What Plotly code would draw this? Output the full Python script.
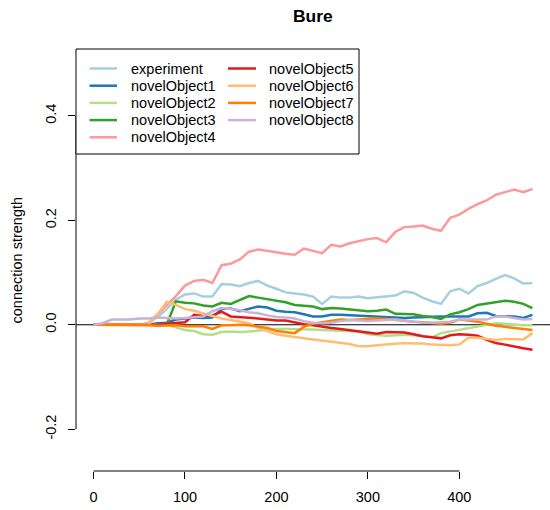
import plotly.graph_objects as go

# ---------------- data ----------------
steps = list(range(0, 481, 10))

series_names = ["experiment", "novelObject1", "novelObject2", "novelObject3", "novelObject4",
                "novelObject5", "novelObject6", "novelObject7", "novelObject8"]
series_colors = ["#A6CEE3", "#1F78B4", "#B2DF8A", "#33A02C", "#FB9A99",
                 "#E31A1C", "#FDBF6F", "#FF7F00", "#CAB2D6"]

experiment = [0, 0, 0, 0, 0, 0, 0.003, 0.015, 0.03, 0.048, 0.058, 0.06, 0.054, 0.054, 0.078, 0.077,
              0.074, 0.08, 0.084, 0.075, 0.069, 0.062, 0.06, 0.058, 0.054, 0.04, 0.054, 0.052, 0.052,
              0.054, 0.051, 0.053, 0.054, 0.056, 0.064, 0.061, 0.052, 0.045, 0.04, 0.064, 0.069, 0.06,
              0.074, 0.08, 0.088, 0.095, 0.089, 0.079, 0.08]
novelObject1 = [0, 0, 0, 0, 0, 0, 0, 0.003, 0.004, 0.01, 0.012, 0.014, 0.013, 0.014, 0.03, 0.031,
                0.026, 0.03, 0.035, 0.033, 0.027, 0.025, 0.024, 0.02, 0.016, 0.016, 0.019, 0.019, 0.018,
                0.018, 0.016, 0.016, 0.014, 0.013, 0.013, 0.014, 0.015, 0.016, 0.016, 0.016, 0.016,
                0.016, 0.022, 0.023, 0.017, 0.016, 0.016, 0.013, 0.019]
novelObject2 = [0, 0, 0, 0, 0, 0, 0, 0, 0, -0.005, -0.01, -0.012, -0.018, -0.019, -0.014, -0.013,
                -0.014, -0.013, -0.011, -0.01, -0.008, -0.008, -0.008, -0.009, -0.009, -0.01, -0.011,
                -0.011, -0.012, -0.013, -0.018, -0.019, -0.021, -0.02, -0.019, -0.02, -0.022, -0.024,
                -0.016, -0.013, -0.009, -0.006, -0.004, -0.001, 0.003, 0.002, 0.0, -0.001, -0.001]
novelObject3 = [0, 0, 0, 0, 0, 0, 0, 0, 0, 0.045, 0.042, 0.041, 0.037, 0.035, 0.042, 0.04, 0.048,
                0.055, 0.052, 0.049, 0.046, 0.043, 0.038, 0.036, 0.035, 0.03, 0.032, 0.031, 0.029,
                0.027, 0.026, 0.027, 0.029, 0.021, 0.02, 0.02, 0.017, 0.015, 0.011, 0.02, 0.024, 0.03,
                0.038, 0.041, 0.043, 0.046, 0.044, 0.04, 0.032]
novelObject4 = [0, 0, 0, 0, 0, 0, 0.003, 0.02, 0.036, 0.055, 0.075, 0.084, 0.086, 0.08, 0.114, 0.117,
                0.125, 0.14, 0.144, 0.142, 0.139, 0.136, 0.134, 0.146, 0.142, 0.137, 0.153, 0.15, 0.156,
                0.16, 0.164, 0.166, 0.158, 0.178, 0.187, 0.188, 0.19, 0.184, 0.18, 0.205, 0.211, 0.222,
                0.231, 0.238, 0.249, 0.254, 0.259, 0.254, 0.26]
novelObject5 = [0, 0, 0, 0, 0, 0, 0, 0, 0.002, 0.003, 0.005, 0.019, 0.017, 0.018, 0.025, 0.016, 0.015,
                0.014, 0.012, 0.01, 0.008, 0.008, 0.004, 0.001, -0.001, -0.004, -0.006, -0.008, -0.01,
                -0.012, -0.015, -0.017, -0.014, -0.014, -0.015, -0.018, -0.022, -0.024, -0.026, -0.02,
                -0.018, -0.019, -0.021, -0.029, -0.035, -0.038, -0.042, -0.045, -0.048]
novelObject6 = [0, 0, 0, 0, 0, 0, 0, 0.02, 0.044, 0.038, 0.03, 0.027, 0.022, 0.018, 0.012, 0.009,
                0.006, 0.003, -0.006, -0.012, -0.018, -0.021, -0.024, -0.026, -0.028, -0.03, -0.032,
                -0.034, -0.037, -0.041, -0.041, -0.039, -0.038, -0.037, -0.035, -0.036, -0.036, -0.038,
                -0.039, -0.039, -0.038, -0.025, -0.025, -0.027, -0.029, -0.027, -0.028, -0.028, -0.016]
novelObject7 = [0, 0, 0, 0, 0, 0, -0.001, -0.002, -0.002, -0.001, -0.003, -0.003, -0.003, -0.008,
                -0.001, -0.001, 0, -0.001, -0.003, -0.006, -0.012, -0.014, -0.016, -0.004, 0.002, 0.005,
                0.008, 0.01, 0.009, 0.01, 0.012, 0.012, 0.011, 0.009, 0.008, 0.006, 0.005, 0.004, 0.002,
                0.004, 0.01, 0.008, 0.006, 0.002, -0.002, -0.004, -0.006, -0.008, -0.01]
novelObject8 = [0, 0.003, 0.01, 0.01, 0.01, 0.012, 0.012, 0.014, 0.013, 0.012, 0.013, 0.014, 0.016,
                0.026, 0.032, 0.03, 0.028, 0.024, 0.022, 0.018, 0.015, 0.014, 0.012, 0.007, 0.004, 0.003,
                0.004, 0.007, 0.009, 0.008, 0.007, 0.008, 0.009, 0.01, 0.008, 0.006, 0.004, 0.004, 0.005,
                0.006, 0.01, 0.01, 0.009, 0.01, 0.016, 0.016, 0.013, 0.01, 0.011]

series_values = [experiment, novelObject1, novelObject2, novelObject3, novelObject4,
                 novelObject5, novelObject6, novelObject7, novelObject8]

x_ticks = [0, 100, 200, 300, 400]
y_ticks = [-0.2, 0.0, 0.2, 0.4]
y_ticktext = ["-0.2", "0.0", "0.2", "0.4"]
title_text = "Bure"
y_title = "connection strength"

# ---------------- layout geometry ----------------
W, H = 550, 510
ML, MR, MT, MB = 76, 0, 48, 39
PW, PH = W - ML - MR, H - MT - MB
FONT = "Liberation Sans, Arial, sans-serif"
FS = 14.5


def px2paper_x(px):
    return (px - ML) / PW


def px2paper_y(py):
    return (H - MB - py) / PH


fig = go.Figure()
for name, vals, col in zip(series_names, series_values, series_colors):
    fig.add_trace(go.Scatter(x=steps, y=vals, mode="lines", name=name,
                             line=dict(color=col, width=2.5), showlegend=False,
                             hoverinfo="skip"))

shapes = []
# horizontal reference at zero (below the lines)
shapes.append(dict(type="line", xref="paper", yref="y", x0=0, x1=1, y0=0, y1=0,
                   line=dict(color="black", width=1), layer="below"))
# R-style axis lines spanning first to last tick
shapes.append(dict(type="line", xref="x", yref="paper", x0=x_ticks[0], x1=x_ticks[-1], y0=0, y1=0,
                   line=dict(color="black", width=1)))
shapes.append(dict(type="line", xref="paper", yref="y", x0=0, x1=0, y0=y_ticks[0], y1=y_ticks[-1],
                   line=dict(color="black", width=1)))

# legend box
lg_left, lg_right, lg_top, lg_bottom = 76, 359, 49, 154
shapes.append(dict(type="rect", xref="paper", yref="paper",
                   x0=px2paper_x(lg_left), x1=px2paper_x(lg_right),
                   y0=px2paper_y(lg_bottom), y1=px2paper_y(lg_top),
                   line=dict(color="black", width=1), fillcolor="white", layer="above"))

annotations = []
col_line_x = [(89.5, 117), (228, 256)]
col_text_x = [129, 267]
row_y0, row_dy = 68.5, 17.2
for i, (name, col) in enumerate(zip(series_names, series_colors)):
    c, r = divmod(i, 5)
    yy = row_y0 + r * row_dy
    shapes.append(dict(type="line", xref="paper", yref="paper",
                       x0=px2paper_x(col_line_x[c][0]), x1=px2paper_x(col_line_x[c][1]),
                       y0=px2paper_y(yy), y1=px2paper_y(yy),
                       line=dict(color=col, width=2.5), layer="above"))
    annotations.append(dict(xref="paper", yref="paper", x=px2paper_x(col_text_x[c]),
                            y=px2paper_y(yy), text=name, showarrow=False,
                            xanchor="left", yanchor="middle",
                            font=dict(family=FONT, size=FS, color="black")))

# title and y-axis title
annotations.append(dict(xref="paper", yref="paper", x=0.5, y=px2paper_y(16), text="<b>" + title_text + "</b>",
                        showarrow=False, xanchor="center", yanchor="middle",
                        font=dict(family=FONT, size=17.4, color="black")))
annotations.append(dict(xref="paper", yref="paper", x=px2paper_x(16), y=px2paper_y((MT + H - MB) / 2),
                        text=y_title, textangle=-90, showarrow=False,
                        xanchor="center", yanchor="middle",
                        font=dict(family=FONT, size=FS, color="black")))

fig.update_layout(
    width=W, height=H,
    margin=dict(l=ML, r=MR, t=MT, b=MB, pad=0),
    paper_bgcolor="white", plot_bgcolor="white",
    showlegend=False,
    shapes=shapes, annotations=annotations,
    font=dict(family=FONT, size=FS, color="black"),
    xaxis=dict(range=[-19.2, 499.2], tickvals=x_ticks, ticktext=[str(v) for v in x_ticks],
               ticks="outside", ticklen=7, tickwidth=1, tickcolor="black",
               showline=False, showgrid=False, zeroline=False,
               tickfont=dict(family=FONT, size=FS, color="black"), ticklabelstandoff=6),
    yaxis=dict(range=[-0.28, 0.53], tickvals=y_ticks, ticktext=y_ticktext, tickangle=-90,
               ticks="outside", ticklen=7, tickwidth=1, tickcolor="black",
               showline=False, showgrid=False, zeroline=False,
               tickfont=dict(family=FONT, size=FS, color="black"), ticklabelstandoff=6),
)

fig.write_html("out.html")
